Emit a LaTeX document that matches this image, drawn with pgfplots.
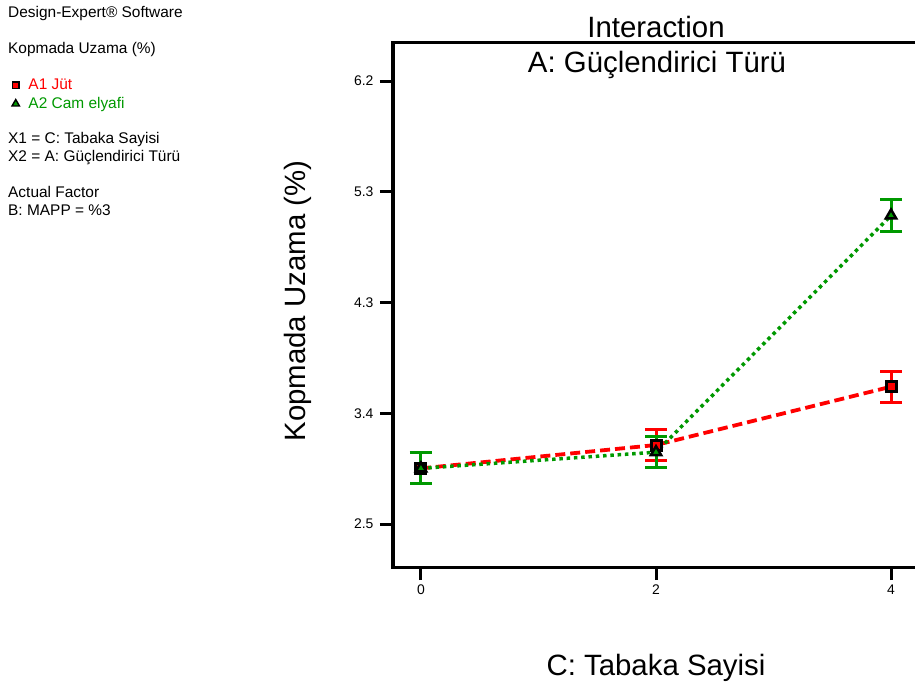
\documentclass[border=0pt]{standalone}
\usepackage{pgfplots}
\pgfplotsset{compat=1.18}
\usepackage{fontspec}
\setmainfont{Liberation Sans}
\definecolor{dred}{RGB}{255,0,0}
\definecolor{dgreen}{RGB}{0,153,0}
\newcommand{\smallf}{\fontsize{15.5}{18}\selectfont}
\newcommand{\bigf}{\fontsize{29.5}{34}\selectfont}
\begin{document}
\begin{tikzpicture}
\useasboundingbox (0,0) rectangle (915bp,-686bp);
\begin{scope}
\clip (0,0) rectangle (915bp,-686bp);
\fill[white] (0,0) rectangle (915bp,-686bp);
\begin{axis}[
  at={(393bp,-567bp)}, anchor=south west,
  scale only axis, width=526bp, height=525bp,
  xmin=-0.238, xmax=4.238, ymin=2.141, ymax=6.526,
  xtick={0,2,4}, xticklabels={0,2,4},
  ytick={2.5,3.425,4.35,5.275,6.2}, yticklabels={2.5,3.4,4.3,5.3,6.2},
  tick align=outside, xtick pos=left, ytick pos=left,
  major tick length=13bp,
  tick style={line width=3bp, black},
  axis line style={line width=3bp},
  ticklabel style={font=\fontsize{14}{16}\selectfont},
  yticklabel style={xshift=-3bp},
  xticklabel style={yshift=-1bp},
  /pgf/number format/assume math mode=true,
  clip=false,
  legend image code/.code={\draw[#1] plot coordinates {(0bp,4.5bp)};},
  legend style={draw=none, fill=none, inner sep=0pt, outer sep=0pt,
    at={(-0.7243,0.9295)}, anchor=north west,
    font=\smallf, row sep=6bp, column sep=9bp,
    nodes={inner sep=0pt, anchor=base west}},
  legend cell align=left,
]
\addplot[forget plot, dred, line width=3.8bp, dash pattern=on 10bp off 5bp,
  mark=square*, mark size=5bp,
  mark options={solid, draw=black, fill=dred, line width=3bp},
  error bars/.cd, y dir=both, y explicit,
  error bar style={solid, line width=3bp, dred},
  error mark options={rotate=90, mark size=11bp, line width=3bp, dred}]
  coordinates {(0,2.965) +- (0,0.13) (2,3.16) +- (0,0.127) (4,3.647) +- (0,0.13)};
\addplot[forget plot, dgreen, line width=3.5bp, dash pattern=on 3.5bp off 3.8bp,
  mark=triangle*, mark size=6bp,
  mark options={solid, draw=black, fill=dgreen, line width=2.5bp},
  error bars/.cd, y dir=both, y explicit,
  error bar style={solid, line width=3bp, dgreen},
  error mark options={rotate=90, mark size=11bp, line width=3bp, dgreen}]
  coordinates {(0,2.965) +- (0,0.13) (2,3.10) +- (0,0.132) (4,5.077) +- (0,0.13)};
\addlegendimage{mark=square*, mark size=3.2bp, mark options={solid, draw=black, fill=dred, line width=1.6bp}}
\addlegendentry{\textcolor{dred}{A1 Jüt}}
\addlegendimage{mark=triangle*, mark size=4.3bp, mark options={solid, draw=black, fill=dgreen, line width=1.4bp}}
\addlegendentry{\textcolor{dgreen}{A2 Cam elyafi}}
\end{axis}
\end{scope}
\node[anchor=base west, font=\smallf, inner sep=0pt] at (8bp,-17bp) {Design-Expert® Software};
\node[anchor=base west, font=\smallf, inner sep=0pt] at (8bp,-53bp) {Kopmada Uzama (\%)};
\node[anchor=base west, font=\smallf, inner sep=0pt] at (8bp,-143bp) {X1 = C: Tabaka Sayisi};
\node[anchor=base west, font=\smallf, inner sep=0pt] at (8bp,-161bp) {X2 = A: Güçlendirici Türü};
\node[anchor=base west, font=\smallf, inner sep=0pt] at (8bp,-197bp) {Actual Factor};
\node[anchor=base west, font=\smallf, inner sep=0pt] at (8bp,-215bp) {B: MAPP = \%3};
\node[anchor=base, font=\bigf, inner sep=0pt] at (656bp,-37bp) {Interaction};
\node[anchor=base, font=\bigf, inner sep=0pt] at (657bp,-72bp) {A: Güçlendirici Türü};
\node[anchor=base, font=\bigf, inner sep=0pt] at (656bp,-675bp) {C: Tabaka Sayisi};
\node[anchor=base, font=\bigf, inner sep=0pt, rotate=90] at (305bp,-301bp) {Kopmada Uzama (\%)};
\end{tikzpicture}
\end{document}
